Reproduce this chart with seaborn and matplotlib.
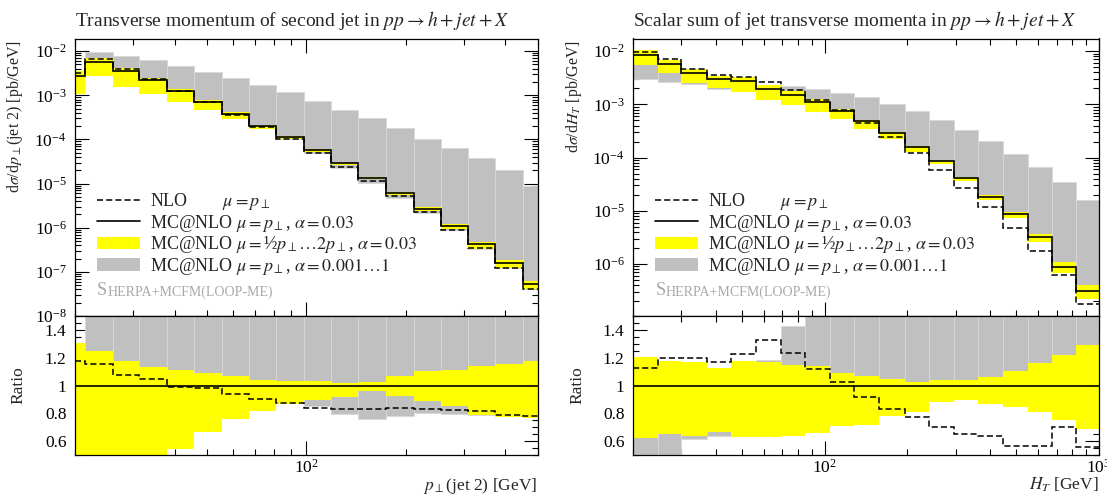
import numpy as np
import matplotlib
matplotlib.use("Agg")
import matplotlib.pyplot as plt
from matplotlib import ticker
from matplotlib.lines import Line2D
from matplotlib.patches import Patch
import seaborn as sns

# --- second jet pT, bin edges [GeV]
pt2_edges = [20, 21.4, 26.0, 31.3, 37.9, 45.8, 55.5, 67.2, 81.2, 98.3, 119, 143.8,
             174, 211, 254.7, 308, 373, 451, 500]
# MC@NLO mu=pT, alpha=0.03 [pb/GeV]
pt2_mcnlo = [2.71e-3, 5.74e-3, 3.60e-3, 2.22e-3, 1.28e-3, 7.1e-4, 3.85e-4, 2.07e-4,
             1.15e-4, 5.87e-5, 2.9e-5, 1.35e-5, 6.1e-6, 2.7e-6, 1.09e-6, 4.2e-7,
             1.57e-7, 5.25e-8]
# everything below as ratio to MC@NLO
pt2_nlo = [1.176, 1.158, 1.077, 1.05, 0.99, 0.98, 0.939, 0.905, 0.873, 0.841, 0.832,
           0.832, 0.841, 0.832, 0.825, 0.816, 0.79, 0.777]
pt2_scale_lo = [0.39, 0.48, 0.43, 0.48, 0.545, 0.662, 0.762, 0.818, 0.87, 0.897, 0.917,
                0.96, 0.921, 0.888, 0.856, 0.787, 0.771, 0.765]
pt2_scale_hi = [1.305, 1.247, 1.173, 1.132, 1.113, 1.091, 1.07, 1.043, 1.035, 1.029,
                1.017, 1.028, 1.066, 1.101, 1.114, 1.137, 1.156, 1.173]
pt2_alpha_lo = [0.95, 0.95, 0.95, 0.95, 0.95, 0.95, 0.95, 0.95, 0.88, 0.849, 0.797,
                0.758, 0.783, 0.805, 0.798, 0.79, 0.78, 0.77]
pt2_alpha_hi = [1.25, 1.71, 2.19, 2.84, 3.69, 4.79, 6.3, 8.5, 10.5, 12.5, 16.2, 23,
                29.8, 38.8, 59.8, 89, 131, 170]

# --- H_T
ht_edges = [20, 24.6, 30, 37.1, 45.5, 56.1, 69.1, 84.8, 104.6, 128.3, 157.9, 195.4,
            239, 295, 362, 447, 550, 674, 827, 1000]
ht_mcnlo = [8.65e-3, 5.86e-3, 3.91e-3, 3.05e-3, 2.72e-3, 1.95e-3, 1.53e-3, 1.09e-3,
            7.62e-4, 4.8e-4, 2.9e-4, 1.58e-4, 8.47e-5, 4.11e-5, 1.85e-5, 8.6e-6,
            3.18e-6, 8.9e-7, 3.15e-7]
ht_nlo = [1.125, 1.201, 1.201, 1.172, 1.225, 1.326, 1.232, 1.117, 1.022, 0.916, 0.83,
          0.772, 0.703, 0.648, 0.638, 0.562, 0.562, 0.698, 0.555]
ht_scale_lo = [0.622, 0.653, 0.634, 0.662, 0.629, 0.629, 0.64, 0.657, 0.71, 0.717,
               0.777, 0.81, 0.88, 0.897, 0.866, 0.844, 0.806, 0.753, 0.686]
ht_scale_hi = [1.208, 1.177, 1.172, 1.129, 1.177, 1.172, 1.148, 1.137, 1.093, 1.069,
               1.048, 1.024, 1.036, 1.036, 1.06, 1.105, 1.165, 1.22, 1.292]
ht_alpha_lo = [0.34, 0.445, 0.614, 0.638, 0.7, 0.7, 0.7, 0.7, 0.8, 0.8, 0.85, 0.9,
               0.95, 0.95, 0.95, 0.9, 0.85, 0.8, 0.75]
ht_alpha_hi = [0.95, 1.0, 1.05, 1.05, 1.1, 1.18, 1.431, 1.78, 2.15, 2.83, 3.57, 4.7,
               6.1, 8.1, 10.9, 13.5, 20.8, 38.8, 51]

YELLOW = "#ffff00"
GREY = "#c0c0c0"
FS = 12.5

sns.set_theme(style="ticks")
plt.rcParams["font.family"] = ["Liberation Serif", "DejaVu Serif"]
plt.rcParams["mathtext.fontset"] = "stix"
plt.rcParams["font.size"] = FS


def bands(ax, edges, base, alo, ahi, slo, shi):
    e = np.asarray(edges)
    w = np.diff(e)
    ax.bar(e[:-1], base * (ahi - alo), bottom=base * alo, width=w, align="edge",
           color=GREY, edgecolor="#d9d9d9", linewidth=0.6, zorder=1)
    ax.bar(e[:-1], base * (shi - slo), bottom=base * slo, width=w, align="edge",
           color=YELLOW, linewidth=0, zorder=2)


def style_axis(ax):
    ax.tick_params(which="both", direction="in", top=True, right=True,
                   colors="black", width=0.8, labelsize=12.5, pad=6)
    ax.tick_params(which="major", length=10)
    ax.tick_params(which="minor", length=4.3)
    for s in ax.spines.values():
        s.set_linewidth(0.9)
        s.set_color("black")


def panel(ax, rax, edges, mc, nlo, slo, shi, alo, ahi, ylim, title, ylabel, xlabel,
          lab_x, rlab_x, nlo_pad):
    mc = np.asarray(mc)
    nlo, slo, shi = np.asarray(nlo), np.asarray(slo), np.asarray(shi)
    alo, ahi = np.asarray(alo), np.asarray(ahi)

    bands(ax, edges, mc, alo, ahi, slo, shi)
    ax.stairs(mc * nlo, edges, baseline=None, color="black", lw=1.1,
              linestyle=(0, (4, 2)), zorder=3)
    ax.stairs(mc, edges, baseline=None, color="black", lw=1.2, zorder=4)
    ax.set_xscale("log")
    ax.set_yscale("log")
    ax.set_xlim(edges[0], edges[-1])
    ax.set_ylim(*ylim)
    ax.set_title(title, loc="left", fontsize=14, pad=9)
    ax.set_ylabel(ylabel, fontsize=11.5, loc="top")
    ax.yaxis.set_label_coords(lab_x, 0.995)
    ax.yaxis.set_major_locator(ticker.LogLocator(base=10, numticks=20))
    ax.yaxis.set_minor_locator(ticker.LogLocator(base=10, subs=np.arange(2, 10), numticks=20))
    ax.yaxis.set_minor_formatter(ticker.NullFormatter())
    ax.tick_params(labelbottom=False)
    style_axis(ax)

    # ratio
    bands(rax, edges, np.ones_like(mc), alo, ahi, slo, shi)
    rax.stairs(nlo, edges, baseline=None, color="black", lw=1.1,
               linestyle=(0, (4, 2)), zorder=3)
    rax.stairs(mc / mc, edges, baseline=None, color="black", lw=1.2, zorder=4)
    rax.set_xscale("log")
    rax.set_xlim(edges[0], edges[-1])
    rax.set_ylim(0.5, 1.5)
    rax.yaxis.set_major_locator(ticker.FixedLocator([0.6, 0.8, 1.0, 1.2, 1.4]))
    rax.yaxis.set_major_formatter(ticker.FuncFormatter(lambda v, p: f"{v:g}"))
    rax.yaxis.set_minor_locator(ticker.MultipleLocator(0.05))
    rax.xaxis.set_minor_formatter(ticker.NullFormatter())
    rax.set_ylabel("Ratio", fontsize=12.5)
    rax.yaxis.set_label_coords(rlab_x, 0.5)
    rax.set_xlabel(xlabel, loc="right", fontsize=12.5, labelpad=-1)
    style_axis(rax)
    rax.tick_params(axis="x", pad=3)

    handles = [Line2D([], [], color="black", lw=1.1, linestyle=(0, (4, 2))),
               Line2D([], [], color="black", lw=1.2),
               Patch(facecolor=YELLOW, edgecolor="none"),
               Patch(facecolor=GREY, edgecolor="none")]
    labels = ["NLO" + " " * nlo_pad + r"$\mu = p_\perp$",
              r"MC@NLO $\mu = p_\perp$, $\alpha = 0.03$",
              r"MC@NLO $\mu = $½$p_\perp \ldots 2p_\perp$, $\alpha = 0.03$",
              r"MC@NLO $\mu = p_\perp$, $\alpha = 0.001 \ldots 1$"]
    ax.legend(handles, labels, loc="upper left", bbox_to_anchor=(0.047, 0.45),
              frameon=False, borderpad=0, borderaxespad=0, handlelength=2.4,
              handletextpad=0.55, labelspacing=0.03, fontsize=13)
    t = ax.text(0.048, 0.075, "S", transform=ax.transAxes, color="#a8a8a8",
                fontsize=13, va="baseline")
    ax.annotate("HERPA+MCFM(LOOP-ME)", xy=(1, 0), xycoords=t, va="bottom",
                color="#a8a8a8", fontsize=10)


fig = plt.figure(figsize=(11.07, 4.97), dpi=100)
W, H = 1107, 497
def box(x0, x1, y0, y1):
    return [x0 / W, 1 - y1 / H, (x1 - x0) / W, (y1 - y0) / H]

ax1 = fig.add_axes(box(75, 537.5, 38.5, 316))
rax1 = fig.add_axes(box(75, 537.5, 316, 455), sharex=ax1)
ax2 = fig.add_axes(box(633, 1099, 38.5, 316))
rax2 = fig.add_axes(box(633, 1099, 316, 455), sharex=ax2)

panel(ax1, rax1, pt2_edges, pt2_mcnlo, pt2_nlo, pt2_scale_lo, pt2_scale_hi,
      pt2_alpha_lo, pt2_alpha_hi, (1e-8, 1.94e-2),
      r"Transverse momentum of second jet in $pp \rightarrow h + jet + X$",
      r"d$\sigma$/d$p_\perp$(jet 2) [pb/GeV]", r"$p_\perp$(jet 2) [GeV]",
      -0.108, -0.104, 8)
panel(ax2, rax2, ht_edges, ht_mcnlo, ht_nlo, ht_scale_lo, ht_scale_hi,
      ht_alpha_lo, ht_alpha_hi, (1.05e-7, 1.73e-2),
      r"Scalar sum of jet transverse momenta in $pp \rightarrow h + jet + X$",
      r"d$\sigma$/d$H_T$ [pb/GeV]", r"$H_T$ [GeV]",
      -0.105, -0.101, 8)

fig.savefig("out.png", dpi=100)
